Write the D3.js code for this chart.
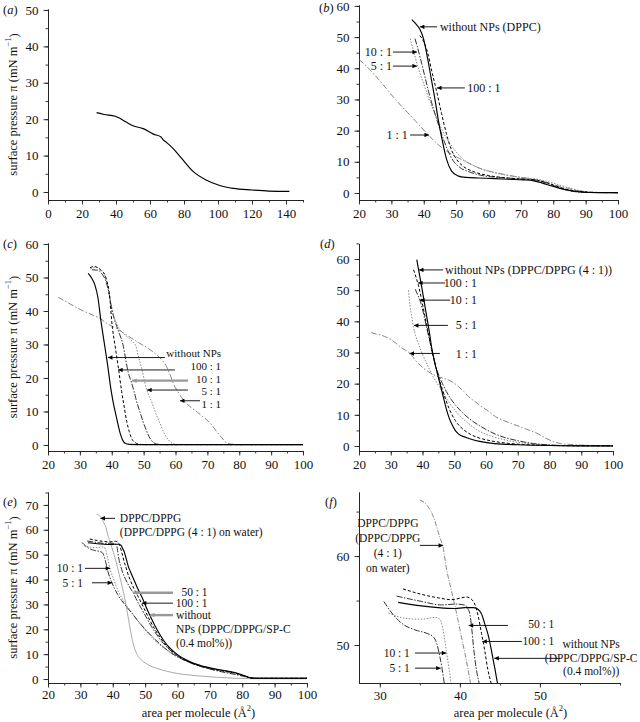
<!DOCTYPE html>
<html><head><meta charset="utf-8">
<script src="https://cdn.jsdelivr.net/npm/d3@7"></script>
<style>
body{margin:0;background:#fff}
svg{display:block}
text{font-family:"Liberation Serif","Times New Roman",serif;fill:#111}
</style>
</head><body>
<svg id="chart" width="640" height="722"></svg>
<script>
// ---------------- tick values ----------------
const xTicksA = [0,20,40,60,80,100,120,140];
const yTicksA = [0,10,20,30,40,50];
const xTicksBE = [20,30,40,50,60,70,80,90,100];
const yTicks60 = [0,10,20,30,40,50,60];
const yTicksE = [0,10,20,30,40,50,60,70];
const xTicksF = [30,40,50];
const yTicksF = [50,60];

// ---------------- data (area Å², pressure mN/m) ----------------
const aData = [[28.6,21.8],[33,21.3],[39.5,20.8],[42,20.3],[46,19.2],[50,18.2],[56,17.4],[62,15.9],[66.5,15.1],[67.8,14.3],[70,13.5],[73.5,12],[78.5,9.3],[85.5,5.6],[93,3.3],[101,1.8],[109,1.0],[120,0.55],[130,0.25],[142,0.15]];

const b_noNP = [[36.3,55.6],[37.5,54.3],[38.8,52.5],[39.9,49.6],[40.9,44.8],[42.2,37.3],[43.5,29.8],[44.5,23.4],[45.7,17],[47.1,10.6],[48.6,7],[50.5,5.5],[53,5],[57,4.8],[62,4.6],[66,4.4],[70.8,4.2],[74,3.9],[76,3.4],[78,2.7],[81,1.8],[84,1.0],[87,0.5],[91,0.15],[100,0.1]];
const b_100 = [[38.8,50.5],[40,48.5],[41.2,45],[42.5,39],[44,32.5],[45.5,25.5],[47,19],[48.5,14],[50,11],[52,8.7],[55,7],[60,5.6],[65,4.9],[70,4.5],[75,4.1],[78,3.3],[81,2.2],[84,1.2],[88,0.5],[92,0.2],[100,0.1]];
const b_10 = [[37.3,49.5],[38,47],[39,43],[40.2,38],[41.5,32.5],[43,27],[44.5,22],[46,17.5],[47.5,13.5],[49,10.5],[51,8.3],[54,6.8],[58,5.6],[63,5],[70,4.5],[74,4.2],[77,3.5],[80,2.4],[83,1.3],[86,0.5],[90,0.2],[100,0.1]];
const b_5 = [[35.8,49.5],[36.5,47],[37.5,43],[38.5,39.5],[40,35],[41.5,30.5],[43,26.5],[44.5,23],[46,19.5],[48,16],[50,13.2],[52,11],[55,9],[58,7.6],[62,6.5],[66,5.6],[70,5],[74,4.6],[77,4],[80,3.2],[83,2.2],[86,1.3],[89,0.6],[93,0.2],[100,0.1]];
const b_1 = [[20,42.8],[22,41],[24,38.8],[26,36.5],[28.5,33.4],[31,30.3],[33,28],[35,25.8],[37.5,23],[40,20.2],[42,18],[44,15.9],[46,14.2],[48,12.8],[51,11.1],[54,9.5],[57.4,7.9],[61,6.8],[65.6,5.8],[70,5],[74.9,4.2],[78,3.3],[81,2.4],[85,1.4],[88,0.7],[91,0.3],[95,0.1],[100,0.1]];

const c_noNP = [[32.6,51.2],[33.7,49.8],[34.7,47.8],[35.7,43.8],[36.5,37.8],[37.6,30.8],[38.7,23.9],[39.7,16.9],[40.5,12.5],[41.3,9],[42,6],[42.8,3],[43.5,1.3],[44.2,0.5],[45.5,0.2],[50,0.1],[100,0.1]];
const c_100 = [[33.2,52.9],[34.5,53.3],[35.8,52.8],[37,51.8],[37.9,50.7],[38.5,48.8],[39,46.8],[39.5,42.8],[40,36.8],[41,29.9],[42.1,22.9],[43.1,16],[43.8,12],[44.7,7],[45.5,4],[46.2,2],[47.2,0.8],[48.3,0.3],[50,0.1],[100,0.1]];
const c_10 = [[33.8,52.3],[35.5,52.2],[37,51],[38.3,48.5],[39.2,45],[40,40.5],[41,37],[42.3,33.5],[43.5,30],[44.3,26],[45.2,21.5],[46,19.2],[47,16],[47.8,13],[48.8,10],[49.8,7],[50.8,4.5],[51.7,2.5],[52.8,1],[54,0.3],[56,0.1],[100,0.1]];
const c_5 = [[33.3,52.6],[35,53],[36.8,52.2],[38.2,49.5],[39,46],[39.8,42],[40.8,38],[42.2,35],[44,33],[46,31.3],[47.4,29.9],[48.5,26],[49.4,22.9],[50.3,19],[51,16.4],[52.5,12.9],[53.8,9.5],[55.1,6.5],[56.7,3],[57.8,1.5],[59,0.5],[60.5,0.15],[100,0.1]];
const c_1 = [[23.2,44.1],[26,42.6],[29,41],[31.1,40],[33.5,39],[36.3,37.8],[38.5,36.3],[41.5,34.8],[45,32.6],[48.9,30.3],[51.5,28.8],[54.1,26.9],[55.8,25.3],[57.2,23.4],[58.3,21],[59.3,18.4],[60.8,15.8],[62.5,13.4],[64.5,11.5],[66.6,10],[68.5,8.5],[69.8,7.5],[71.5,5.8],[72.9,4],[74.5,2.2],[76,0.7],[78,0.2],[82,0.1],[100,0.1]];

const d_noNP = [[38.2,59.8],[39,55.2],[39.8,50.7],[40.6,45.9],[41.4,41.1],[42.2,36.3],[42.9,31.5],[43.7,27.5],[44.5,24],[45.3,20.8],[46.1,17.6],[46.9,14.3],[47.7,11.2],[48.5,8.7],[49.3,6.9],[50.3,5],[51.4,3.8],[53.5,2.8],[55.6,2.1],[58,1.5],[60.8,1.0],[65,0.6],[70,0.4],[80,0.15],[90,0.05],[100,0.05]];
const d_100 = [[37.2,56.5],[38,54],[38.7,51.6],[39.5,48],[40.3,44],[41.1,40],[42,35.5],[42.9,31],[43.8,27],[44.7,23.5],[45.6,20.3],[46.5,17.4],[47.4,14.6],[48.3,12.2],[49.3,10],[50.3,8.2],[51.5,6.6],[53,5.2],[55,3.8],[57.5,2.7],[60,2],[65,1.1],[70,0.6],[80,0.2],[90,0.05],[100,0.05]];
const d_10 = [[37.7,50.3],[38.5,48.5],[39.3,46.5],[40.2,43],[41.2,38.5],[42.2,34],[43.2,29.5],[44.2,25.5],[45.2,22.5],[46.3,20],[47.5,17.5],[49,15],[50.5,13],[52,11.3],[54,9.4],[56,7.8],[58,6.5],[60.2,5.2],[63,3.8],[66,2.7],[70,1.7],[75,0.8],[80,0.35],[85,0.15],[100,0.05]];
const d_5 = [[35.6,50],[35.8,47.5],[36.1,44.7],[36.6,41.5],[37.1,38.3],[37.8,35.5],[38.7,32.9],[39.7,30.2],[40.8,27.6],[42,25],[43.4,22.2],[45,19.5],[46.6,16.9],[48.3,14],[50.2,11.5],[52.2,9.2],[54.4,7.3],[57,5.3],[60.7,3.5],[65,2.2],[70,1.2],[75,0.6],[80,0.3],[90,0.1],[100,0.05]];
const d_1 = [[23.8,36.4],[25.5,35.9],[27.2,35.5],[28.8,34.8],[30.3,34.0],[31.6,33],[32.9,31.9],[34.5,30.8],[36.1,29.7],[37.4,28],[38.7,26.5],[40.3,25],[41.9,23.8],[43.5,22.9],[45,22.2],[46.6,21.7],[48.2,21.2],[49.8,20.3],[51.4,19],[53,17.5],[54.5,15.8],[56.6,14.2],[58.7,12.6],[61,11],[63,9.4],[65.5,8.2],[68,7.2],[70.7,6.2],[73.5,5.1],[76,4.1],[78.5,2.7],[81.2,1.4],[83.5,0.8],[86.5,0.5],[90,0.3],[95,0.15],[100,0.1]];

// panels (e) and (f) share the same isotherms; (f) is a magnified view
const e_water = [[35,66.3],[35.9,65.7],[36.7,64.4],[37.5,62.1],[37.9,61],[38.3,58.7],[38.95,56.1],[39.6,53.5],[40.2,50.9],[40.8,48.3],[41.4,45.3],[42,42],[42.7,38.3],[43.4,34.3],[44.1,29.8],[44.8,24.5],[45.5,19.3],[46.3,14.3],[47.1,11],[47.9,9],[49,7.5],[50,6.5],[51.5,5.3],[53.5,4.3],[56.5,3.2],[59.7,2.3],[63,1.7],[67,1.2],[72,0.7],[77,0.35],[82,0.15],[90,0.1],[100,0.1]];
const e_noNP = [[32.3,54.8],[35.2,54.4],[37.3,54.2],[39.4,54.1],[40.6,54.2],[41.7,54.2],[42.3,54],[42.7,53.5],[43.1,52.4],[43.6,50.9],[44,49.1],[44.4,47.2],[44.7,45.7],[45.5,43],[46.5,40],[47.5,37],[49,33],[50.3,29],[51.5,25.5],[53,21.5],[54.5,18],[56,15],[58,12],[60,9.8],[62.5,7.8],[65,6.3],[68,5.1],[71,4.2],[74,3.5],[77,2.8],[79,2.1],[81,1.2],[82.5,0.5],[84,0.3],[100,0.3]];
const e_100 = [[32.9,56.3],[35.2,55.7],[37.3,55.3],[38.95,55.1],[40.2,55.3],[40.8,55.4],[41.5,55.1],[41.9,54.5],[42.3,53.2],[42.7,51.3],[43.1,49.4],[43.5,47.2],[43.9,45.7],[44.5,43],[45.5,39.5],[46.5,36.5],[47.7,33.5],[48.9,30.4],[50.2,27],[51.5,23.5],[53,20],[54.5,17],[56,14.3],[58,11.5],[60,9.4],[62.5,7.5],[65,6.1],[68,4.9],[71,4],[74,3.3],[77,2.6],[79,1.9],[81,1.1],[82.5,0.5],[84,0.3],[100,0.3]];
const e_50 = [[32.1,55.5],[35.2,54.9],[37.7,54.5],[39.4,54.6],[40.6,54.5],[41,54.1],[41.3,53.2],[41.5,51.7],[41.7,49.8],[42,47.6],[42.4,45.7],[43,43],[44,40],[45.2,37],[46.3,34.7],[47.5,31.5],[49,28],[50.5,24.5],[52,21],[53.5,18],[55,15.3],[57,12.5],[59,10.2],[61.5,8.2],[64,6.7],[67,5.4],[70,4.4],[73,3.6],[76,2.9],[79,1.9],[81,1.1],[82.5,0.5],[84,0.3],[100,0.3]];
const e_10 = [[31.1,53.6],[33.2,53],[35.2,52.9],[36.9,53.1],[37.5,52.9],[37.9,51.7],[38.3,49.4],[38.7,47],[39.1,44.5],[39.6,42.5],[40.2,40.5],[41,37.5],[42,34.5],[43.2,31.8],[44.5,29.2],[46.3,26],[48,23],[50.5,19],[53,15.5],[56.6,11.7],[59.5,9.2],[62.8,7.2],[66,5.6],[70,4.1],[74,3],[78,2],[80.5,1.2],[82.5,0.5],[84,0.3],[100,0.3]];
const e_5 = [[30.5,54.9],[31.5,53.6],[32.8,52.4],[34.4,51.7],[35.9,51.3],[36.7,50.9],[37.1,50.2],[37.5,48.7],[37.8,47.2],[38.05,45.7],[38.5,43.3],[39.6,39.2],[40.5,36.5],[41.5,34],[42.8,31.5],[44.3,29],[46,26.3],[48,23],[50.5,19.3],[53,16],[56,12.5],[59,9.7],[62.5,7.3],[66,5.5],[70,4],[74,2.8],[78,1.8],[81,0.9],[83,0.35],[100,0.3]];

// ---------------- styles ----------------
const STY = {
  solid:   {stroke:'#000', w:1.15, dash:null},
  dashed:  {stroke:'#000', w:1.0, dash:'3,2'},
  ddDark:  {stroke:'#333', w:1.0, dash:'6,1.5,1.5,1.5'},
  dotted:  {stroke:'#888', w:1.0, dash:'1.5,1.5'},
  ddGrey:  {stroke:'#777', w:0.9, dash:'6,2,1.5,2'},
  greySol: {stroke:'#aaa', w:1.0, dash:null},
  greyDD:  {stroke:'#888', w:1.0, dash:'5,1.5,1,1.5'}
};

const range = (a,b,s)=>d3.range(a,b+1e-9,s);

const panels = [
  {key:'a', px:[48,303], py:[200,9], xd:[0,150], yd:[-2.2,50.27],
   xMajor:xTicksA, xMinor:range(0,150,10), yMajor:yTicksA, yMinor:range(0,50,5),
   ylab:true, tag:[3,14], fs:12, xpad:4.5,
   series:[[aData,'solid']], arrows:[], texts:[]},
  {key:'b', px:[359,618], py:[200,5], xd:[20,100], yd:[-2.25,60.3],
   xMajor:xTicksBE, xMinor:range(20,100,5), yMajor:yTicks60, yMinor:range(0,60,5),
   ylab:false, tag:[319,12], fs:12, xpad:4.5,
   series:[[b_1,'ddGrey'],[b_5,'dotted'],[b_10,'ddDark'],[b_100,'dashed'],[b_noNP,'solid']],
   arrows:[[[44.1,53.3],[38.8,53.3]],[[30.5,45.2],[37.9,45.2]],[[30.5,40.7],[37.9,40.7]],[[52.7,33.7],[44.1,33.7]],[[35.8,18.6],[41.6,18.6]]],
   texts:[['without NPs (DPPC)',45.0,53.3,'start'],['10 : 1',30.2,45.2,'end'],['5 : 1',30.2,40.7,'end'],['100 : 1',53.4,33.7,'start'],['1 : 1',35.1,18.6,'end']]},
  {key:'c', px:[48,303], py:[451,243], xd:[20,100], yd:[-1.8,60.3],
   xMajor:xTicksBE, xMinor:range(20,100,5), yMajor:yTicks60, yMinor:range(0,60,5),
   ylab:true, tag:[3,248], fs:11, xpad:4.5,
   series:[[c_1,'ddGrey'],[c_5,'dotted'],[c_10,'ddDark'],[c_100,'dashed'],[c_noNP,'solid']],
   arrows:[[[56.7,26.1],[38.8,26.1]],[[59.8,22.4],[42.0,22.4]],[[63.9,19.2],[46.4,19.2],true],[[63.9,16.4],[51.1,16.4]],[[67.7,13.2],[61.4,13.2]]],
   texts:[['without NPs',74.3,27.3,'end'],['100 : 1',74.3,23.5,'end'],['10 : 1',74.3,19.7,'end'],['5 : 1',74.3,15.9,'end'],['1 : 1',74.3,12.1,'end']]},
  {key:'d', px:[359,613], py:[451,243.4], xd:[20,100], yd:[-1.6,65],
   xMajor:xTicksBE, xMinor:range(20,100,5), yMajor:yTicks60, yMinor:range(0,65,5),
   ylab:false, tag:[320,248], fs:12, xpad:4.5,
   series:[[d_1,'ddGrey'],[d_5,'dotted'],[d_10,'ddDark'],[d_100,'dashed'],[d_noNP,'solid']],
   arrows:[[[46.5,56.5],[38.9,56.5]],[[47.1,52.3],[38.6,52.3]],[[48.7,46.8],[39.2,46.8]],[[48,38.7],[37.3,38.7]],[[45.5,29.7],[35.9,29.7]]],
   texts:[['without NPs (DPPC/DPPG (4 : 1))',47.1,56.6,'start'],['100 : 1',57.2,52.4,'end'],['10 : 1',57.2,46.8,'end'],['5 : 1',57.2,38.7,'end'],['1 : 1',57.2,29.7,'end']]},
  {key:'e', px:[48,307], py:[683,492], xd:[20,100], yd:[-1.6,75.2],
   xMajor:xTicksBE, xMinor:range(20,100,5), yMajor:yTicksE, yMinor:range(0,75,5),
   ylab:true, xlab:true, tag:[3,506], fs:11.5, xpad:2.5,
   series:[[e_water,'greySol'],[e_10,'dotted'],[e_5,'ddDark'],[e_50,'ddDark'],[e_100,'dashed'],[e_noNP,'solid']],
   arrows:[[[40.7,64.6],[36.2,64.6]],[[31.4,44.5],[39.2,44.5]],[[33.6,38.7],[39.8,38.7]],[[58.6,34.7],[46.3,34.7],true],[[58.6,30.5],[49.0,30.5]],[[58.6,25.7],[51.5,25.7],true]],
   texts:[['DPPC/DPPG',42.2,64.6,'start'],['(DPPC/DPPG (4 : 1) on water)',42.2,58.9,'start'],['10 : 1',30.8,44.5,'end'],['5 : 1',30.8,38.7,'end'],
          ['50 : 1',69.3,35.0,'end'],['100 : 1',69.3,30.5,'end'],['without',59.5,25.6,'start'],['NPs (DPPC/DPPG/SP-C',59.5,20,'start'],['(0.4 mol%))',59.5,14.5,'start']]},
  {key:'f', px:[359,620], py:[683,492], xd:[27.4,60], yd:[45.73,67.2],
   xMajor:xTicksF, xMinor:range(30,60,5), yMajor:yTicksF, yMinor:range(50,65,5),
   ylab:false, xlab:true, tag:[325,506], fs:11.5, xpad:3,
   series:[[e_water,'greyDD'],[e_10,'dotted'],[e_5,'ddDark'],[e_50,'ddDark'],[e_100,'dashed'],[e_noNP,'solid']],
   arrows:[[[35,61.2],[37.9,61.2]],[[46,52.2],[41.1,52.2]],[[47.75,50.4],[42.8,50.4]],[[52.5,48.5],[44.3,48.5]],[[34.4,49.1],[38.3,49.1]],[[34.4,47.4],[37.6,47.4]]],
   texts:[['DPPC/DPPG',31.0,63.7,'middle'],['(DPPC/DPPG',31.0,62.05,'middle'],['(4 : 1)',31.0,60.35,'middle'],['on water)',31.0,58.65,'middle'],
          ['50 : 1',51.8,52.3,'end'],['100 : 1',51.8,50.4,'end'],['without NPs',56.4,50.1,'middle'],['(DPPC/DPPG/SP-C',56.4,48.55,'middle'],['(0.4 mol%))',56.4,47.05,'middle'],
          ['10 : 1',33.75,49.1,'end'],['5 : 1',33.75,47.4,'end']]}
];

const svg = d3.select('#chart');
const defs = svg.append('defs');
function marker(id, col){
  defs.append('marker').attr('id',id).attr('viewBox','0 0 10 10').attr('refX',10).attr('refY',5)
    .attr('markerWidth',6.5).attr('markerHeight',4.5).attr('markerUnits','userSpaceOnUse').attr('orient','auto')
    .append('path').attr('d','M0,0L10,5L0,10Z').attr('fill',col);
}
marker('ahK','#000'); marker('ahG','#999');

const fmt = d3.format('d');

panels.forEach((p,i)=>{
  const xs = d3.scaleLinear().domain(p.xd).range(p.px);
  const ys = d3.scaleLinear().domain(p.yd).range(p.py);
  const g = svg.append('g').attr('class','panel-'+p.key);

  defs.append('clipPath').attr('id','clip'+p.key).append('rect')
    .attr('x',p.px[0]).attr('y',p.py[1]).attr('width',p.px[1]-p.px[0]).attr('height',p.py[0]-p.py[1]);

  const styleAxis = sel => {
    sel.attr('font-family','"Liberation Serif","Times New Roman",serif').attr('font-size',13);
    sel.selectAll('.domain,.tick line').attr('stroke','#222').attr('stroke-width',0.9);
    sel.selectAll('text').attr('fill','#111');
  };
  g.append('g').attr('transform',`translate(0,${p.py[0]})`)
    .call(d3.axisBottom(xs).tickValues(p.xMinor).tickSize(2.5).tickSizeOuter(0).tickFormat(''))
    .call(styleAxis);
  g.append('g').attr('transform',`translate(0,${p.py[0]})`)
    .call(d3.axisBottom(xs).tickValues(p.xMajor).tickSize(4.5).tickSizeOuter(0).tickPadding(p.xpad).tickFormat(fmt))
    .call(styleAxis);
  g.append('g').attr('transform',`translate(${p.px[0]},0)`)
    .call(d3.axisLeft(ys).tickValues(p.yMinor).tickSize(2.5).tickSizeOuter(0).tickFormat(''))
    .call(styleAxis);
  g.append('g').attr('transform',`translate(${p.px[0]},0)`)
    .call(d3.axisLeft(ys).tickValues(p.yMajor).tickSize(4.5).tickSizeOuter(0).tickPadding(5).tickFormat(fmt))
    .call(styleAxis);

  const line = d3.line().x(d=>xs(d[0])).y(d=>ys(d[1])).curve(d3.curveMonotoneX);
  const cg = g.append('g').attr('clip-path',`url(#clip${p.key})`);
  p.series.forEach(([data,st])=>{
    const s = STY[st];
    cg.append('path').datum(data).attr('d',line).attr('fill','none')
      .attr('stroke',s.stroke).attr('stroke-width',s.w)
      .attr('stroke-dasharray',s.dash).attr('stroke-linejoin','round');
  });

  p.arrows.forEach(a=>{
    const grey = a[2]===true;
    g.append('line').attr('x1',xs(a[0][0])).attr('y1',ys(a[0][1]))
      .attr('x2',xs(a[1][0])).attr('y2',ys(a[1][1]))
      .attr('stroke',grey?'#999':'#000').attr('stroke-width',grey?2.4:0.9)
      .attr('marker-end',grey?'url(#ahG)':'url(#ahK)');
  });
  p.texts.forEach(t=>{
    g.append('text').attr('x',xs(t[1])).attr('y',ys(t[2])).attr('dy','0.34em')
      .attr('text-anchor',t[3]).attr('font-size',p.fs).text(t[0]);
  });

  const tg = g.append('text').attr('x',p.tag[0]).attr('y',p.tag[1]).attr('font-size',12.5);
  tg.append('tspan').text('(');
  tg.append('tspan').attr('font-style','italic').text(p.key);
  tg.append('tspan').text(')');

  if(p.ylab){
    const cy = (p.py[0]+p.py[1])/2;
    const t = g.append('text').attr('transform',`translate(13,${cy}) rotate(-90)`)
      .attr('text-anchor','middle').attr('dy','0.34em').attr('font-size',12.5);
    t.append('tspan').text('surface pressure π (mN m');
    t.append('tspan').attr('font-size',8.5).attr('dy','-0.75em').text('−1');
    t.append('tspan').attr('dy','0.55em').text(')');
  }
  if(p.xlab){
    const cx = (p.px[0]+p.px[1])/2 + 21;
    const t = g.append('text').attr('x',cx).attr('y',717).attr('text-anchor','middle').attr('font-size',12.5);
    t.append('tspan').text('area per molecule (Å');
    t.append('tspan').attr('font-size',8.5).attr('dy','-0.7em').text('2');
    t.append('tspan').attr('dy','0.5em').text(')');
  }
});
</script>
</body></html>
